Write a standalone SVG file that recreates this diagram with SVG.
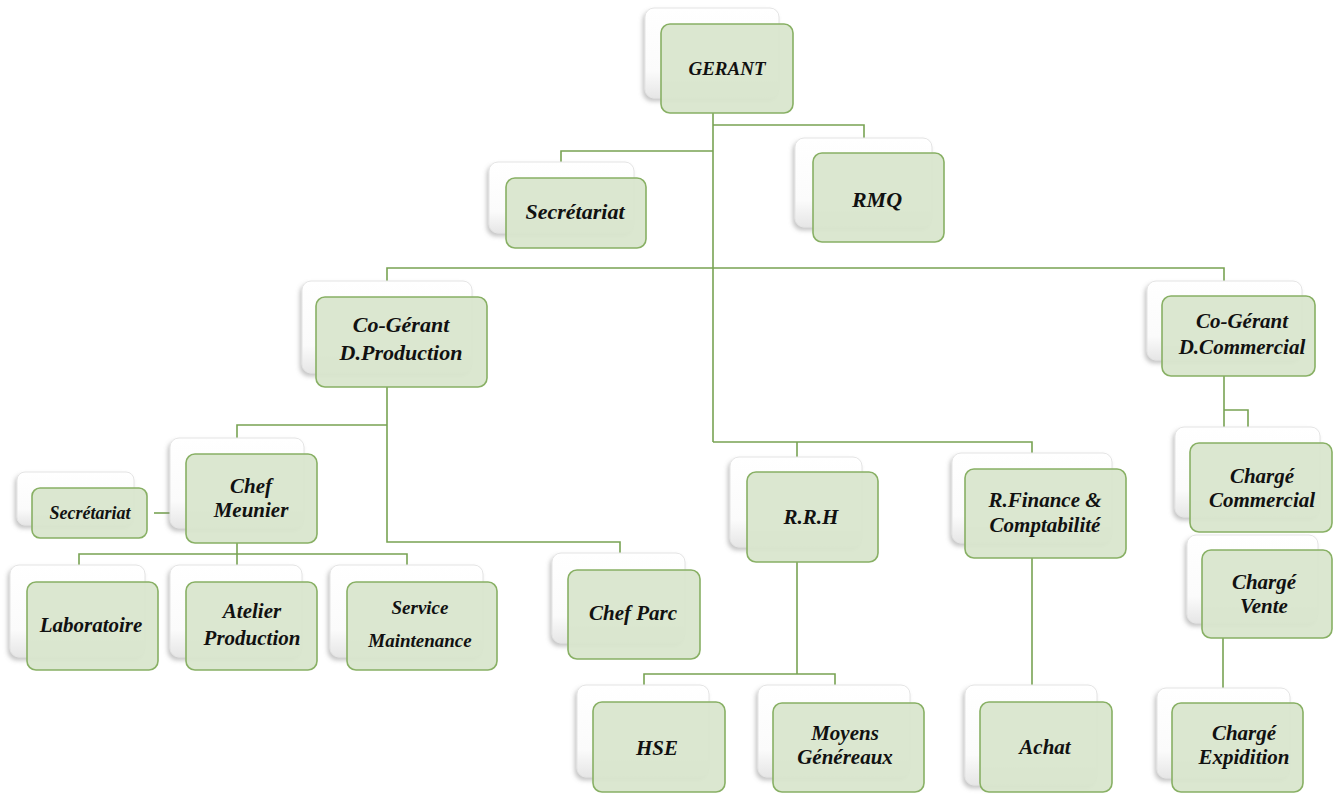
<svg xmlns="http://www.w3.org/2000/svg" width="1333" height="794" viewBox="0 0 1333 794">
<defs>
<linearGradient id="bg" x1="0" y1="0" x2="0" y2="1">
<stop offset="0" stop-color="#ffffff"/>
<stop offset="0.7" stop-color="#fbfbfb"/>
<stop offset="1" stop-color="#e6e6e6"/>
</linearGradient>
<filter id="sh" x="-20%" y="-20%" width="140%" height="140%">
<feDropShadow dx="-2" dy="3" stdDeviation="2" flood-color="#808080" flood-opacity="0.45"/>
</filter>
</defs>
<style>
.back{fill:url(#bg);stroke:#e4e4e4;stroke-width:1;filter:url(#sh)}
.front{fill:#d8e5cc;fill-opacity:0.93;stroke:#88b064;stroke-width:1.6}
.ln{fill:none;stroke:#78a353;stroke-width:1.6}
.t{font-family:'Liberation Serif','Times New Roman',serif;font-weight:700;font-style:italic;font-size:21px;fill:#111;text-anchor:middle}
</style>
<rect width="1333" height="794" fill="#ffffff"/>
<g id="connectors">
<path class="ln" d="M713,113 V442"/>
<path class="ln" d="M713,125 H864 V138"/>
<path class="ln" d="M713,151 H561 V162"/>
<path class="ln" d="M387,281 V268 H1224 V281"/>
<path class="ln" d="M387,387 V542 H620 V553"/>
<path class="ln" d="M387,425 H237 V438"/>
<path class="ln" d="M237,543 V565"/>
<path class="ln" d="M79,565 V554 H407 V565"/>
<path class="ln" d="M154,513 H186"/>
<path class="ln" d="M713,442 H1032 V453"/>
<path class="ln" d="M797,442 V457"/>
<path class="ln" d="M797,562 V674"/>
<path class="ln" d="M644,686 V674 H835 V686"/>
<path class="ln" d="M1032,558 V685"/>
<path class="ln" d="M1224,376 V427"/>
<path class="ln" d="M1224,410 H1248 V427"/>
<path class="ln" d="M1223,638 V688"/>
</g>
<g id="gerant">
<rect class="back" x="645" y="8" width="134" height="90" rx="9"/>
<rect class="front" x="661" y="24" width="132" height="89" rx="9"/>
<text class="t" x="727" y="75" style="font-size:19px">GERANT</text>
</g>
<g id="secretariat">
<rect class="back" x="489" y="162" width="145" height="71" rx="9"/>
<rect class="front" x="506" y="178" width="140" height="70" rx="9"/>
<text class="t" x="575" y="219" style="font-size:22px">Secrétariat</text>
</g>
<g id="rmq">
<rect class="back" x="795" y="138" width="137" height="89" rx="9"/>
<rect class="front" x="813" y="153" width="131" height="89" rx="9"/>
<text class="t" x="877" y="207" style="font-size:22px">RMQ</text>
</g>
<g id="cogerant-production">
<rect class="back" x="302" y="281" width="170" height="92" rx="9"/>
<rect class="front" x="316" y="297" width="171" height="90" rx="9"/>
<text class="t" x="401" y="332" style="font-size:22px">Co-Gérant</text>
<text class="t" x="401" y="360" style="font-size:22px">D.Production</text>
</g>
<g id="cogerant-commercial">
<rect class="back" x="1147" y="281" width="155" height="79" rx="9"/>
<rect class="front" x="1162" y="296" width="153" height="80" rx="9"/>
<text class="t" x="1242" y="328">Co-Gérant</text>
<text class="t" x="1242" y="354">D.Commercial</text>
</g>
<g id="chef-meunier">
<rect class="back" x="170" y="438" width="134" height="90" rx="9"/>
<rect class="front" x="186" y="454" width="131" height="89" rx="9"/>
<text class="t" x="251" y="493">Chef</text>
<text class="t" x="251" y="517">Meunier</text>
</g>
<g id="secretariat-2">
<rect class="back" x="17" y="472" width="117" height="53" rx="8"/>
<rect class="front" x="32" y="488" width="115" height="50" rx="8"/>
<text class="t" x="90" y="519" style="font-size:18px">Secrétariat</text>
</g>
<g id="laboratoire">
<rect class="back" x="10" y="565" width="135" height="92" rx="9"/>
<rect class="front" x="27" y="582" width="131" height="88" rx="9"/>
<text class="t" x="91" y="632">Laboratoire</text>
</g>
<g id="atelier-production">
<rect class="back" x="170" y="565" width="132" height="92" rx="9"/>
<rect class="front" x="186" y="582" width="131" height="88" rx="9"/>
<text class="t" x="252" y="618">Atelier</text>
<text class="t" x="252" y="645">Production</text>
</g>
<g id="service-maintenance">
<rect class="back" x="330" y="565" width="153" height="92" rx="9"/>
<rect class="front" x="347" y="582" width="150" height="88" rx="9"/>
<text class="t" x="420" y="614" style="font-size:19px">Service</text>
<text class="t" x="420" y="647" style="font-size:19px">Maintenance</text>
</g>
<g id="chef-parc">
<rect class="back" x="552" y="553" width="133" height="90" rx="9"/>
<rect class="front" x="568" y="570" width="132" height="89" rx="9"/>
<text class="t" x="633" y="620">Chef Parc</text>
</g>
<g id="rrh">
<rect class="back" x="730" y="457" width="132" height="90" rx="9"/>
<rect class="front" x="747" y="472" width="131" height="90" rx="9"/>
<text class="t" x="811" y="524">R.R.H</text>
</g>
<g id="finance">
<rect class="back" x="952" y="453" width="160" height="90" rx="9"/>
<rect class="front" x="965" y="469" width="161" height="89" rx="9"/>
<text class="t" x="1045" y="507">R.Finance &amp;</text>
<text class="t" x="1045" y="532">Comptabilité</text>
</g>
<g id="charge-commercial">
<rect class="back" x="1175" y="427" width="145" height="90" rx="9"/>
<rect class="front" x="1190" y="443" width="142" height="89" rx="9"/>
<text class="t" x="1262" y="483">Chargé</text>
<text class="t" x="1262" y="507">Commercial</text>
</g>
<g id="charge-vente">
<rect class="back" x="1187" y="535" width="131" height="88" rx="9"/>
<rect class="front" x="1202" y="550" width="130" height="88" rx="9"/>
<text class="t" x="1264" y="589">Chargé</text>
<text class="t" x="1264" y="613">Vente</text>
</g>
<g id="hse">
<rect class="back" x="577" y="685" width="132" height="92" rx="9"/>
<rect class="front" x="593" y="702" width="132" height="90" rx="9"/>
<text class="t" x="657" y="755">HSE</text>
</g>
<g id="moyens-generaux">
<rect class="back" x="758" y="685" width="152" height="92" rx="9"/>
<rect class="front" x="773" y="703" width="151" height="89" rx="9"/>
<text class="t" x="845" y="740">Moyens</text>
<text class="t" x="845" y="764">Généreaux</text>
</g>
<g id="achat">
<rect class="back" x="965" y="685" width="132" height="100" rx="9"/>
<rect class="front" x="980" y="702" width="132" height="90" rx="9"/>
<text class="t" x="1045" y="754">Achat</text>
</g>
<g id="charge-expidition">
<rect class="back" x="1157" y="688" width="133" height="90" rx="9"/>
<rect class="front" x="1172" y="703" width="131" height="89" rx="9"/>
<text class="t" x="1244" y="740">Chargé</text>
<text class="t" x="1244" y="764">Expidition</text>
</g>
</svg>
